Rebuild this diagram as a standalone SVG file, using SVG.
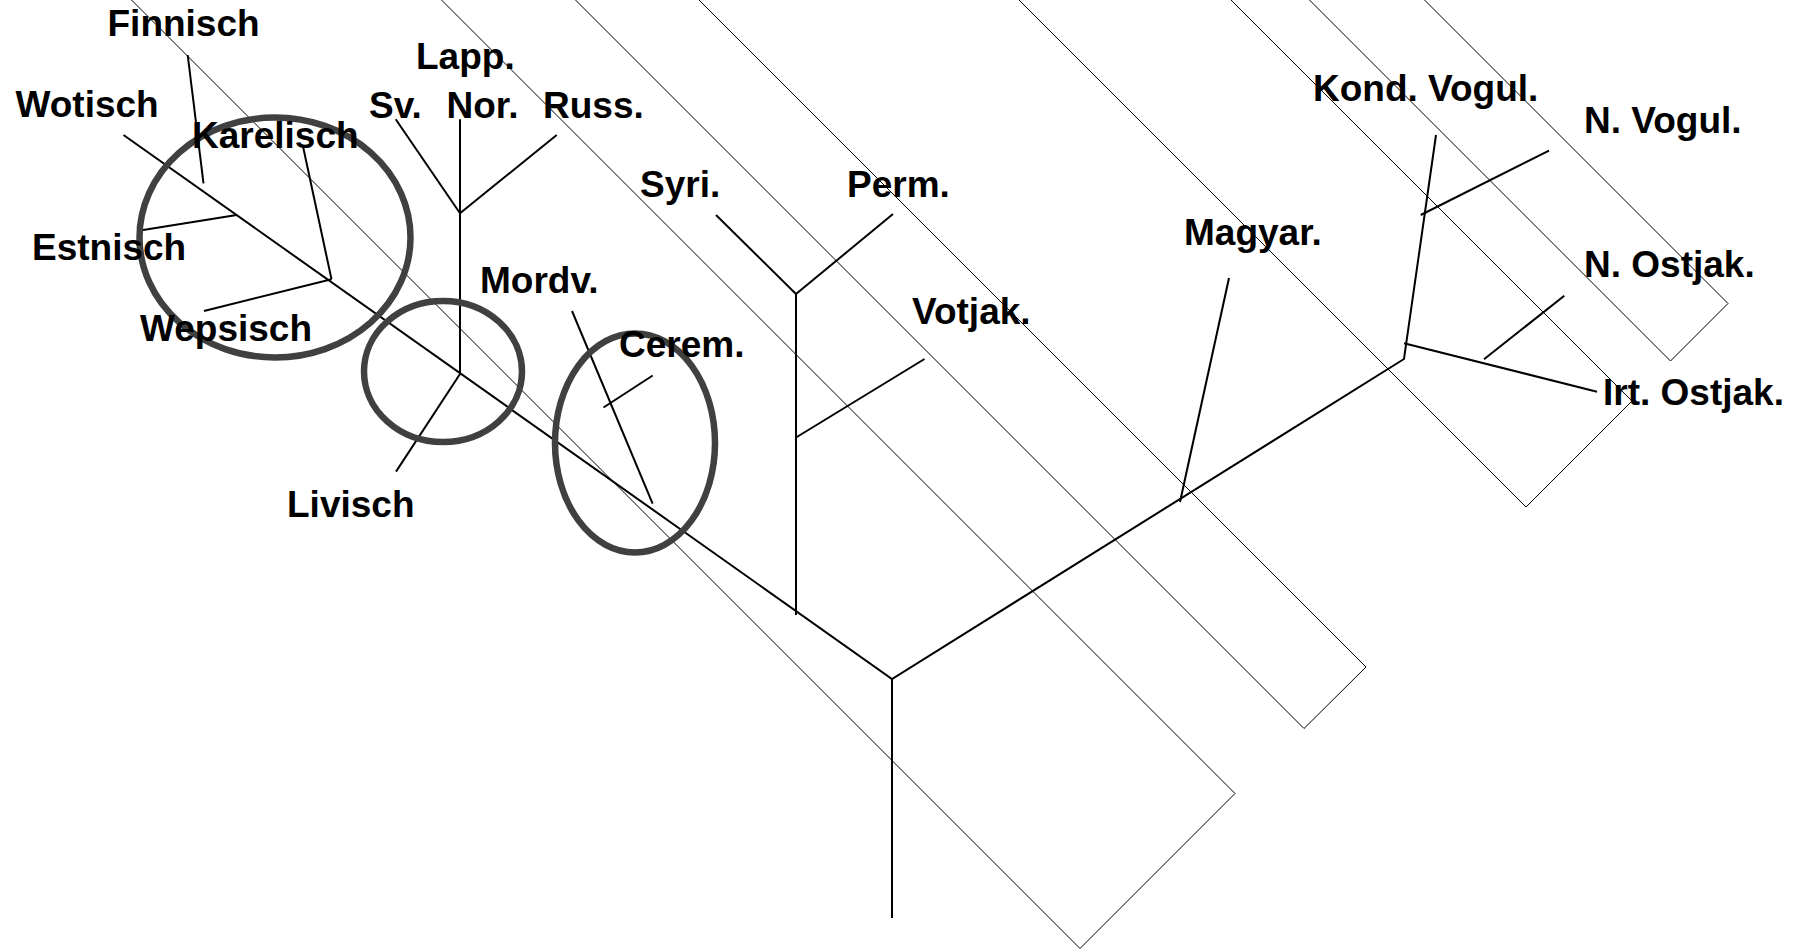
<svg xmlns="http://www.w3.org/2000/svg" width="1798" height="950" viewBox="0 0 1798 950">
<style>
.lbl{font-family:"Liberation Sans",Arial,sans-serif;font-weight:bold;font-size:37px;fill:#000}
.thin{fill:none;stroke:#000;stroke-width:1}
.br{fill:none;stroke:#000;stroke-width:2;stroke-linecap:butt}
.ring{fill:none;stroke:#404040;stroke-width:6.5}
</style>
<rect width="1798" height="950" fill="#fff"/>
<g id="bands">
<polyline class="thin" points="131.5,0 1080,948.5 1235,793.5 441.5,0"/>
<polyline class="thin" points="575.5,0 1304,728.5 1366,667 699,0"/>
<polyline class="thin" points="1019,0 1526,507 1632,401 1231,0"/>
<polyline class="thin" points="1309.5,0 1670.5,361 1728,303.5 1424.5,0"/>
</g>
<g id="connectors">
<polyline class="br" points="123.5,135 892,679 1404,359 1436,135"/>
<line class="br" x1="892" y1="679" x2="892" y2="918"/>
<line class="br" x1="187.7" y1="55" x2="203.5" y2="183.3"/>
<line class="br" x1="140" y1="230.5" x2="236.7" y2="215"/>
<line class="br" x1="303.3" y1="147.7" x2="331.5" y2="279.3"/>
<line class="br" x1="204" y1="311" x2="331.5" y2="279.3"/>
<line class="br" x1="395.7" y1="119.3" x2="460" y2="213.3"/>
<line class="br" x1="556.7" y1="135" x2="460" y2="213.3"/>
<line class="br" x1="460" y1="119.3" x2="460" y2="373"/>
<line class="br" x1="460" y1="374" x2="396" y2="471.6"/>
<line class="br" x1="572" y1="311" x2="652.6" y2="503.6"/>
<line class="br" x1="652.7" y1="375.5" x2="603.5" y2="407.5"/>
<line class="br" x1="796" y1="294" x2="796" y2="615"/>
<line class="br" x1="716" y1="215" x2="796" y2="294"/>
<line class="br" x1="893" y1="214" x2="796" y2="294"/>
<line class="br" x1="924.5" y1="359" x2="796" y2="437.5"/>
<line class="br" x1="1229" y1="278" x2="1180" y2="502"/>
<line class="br" x1="1404" y1="343.3" x2="1597" y2="391.7"/>
<line class="br" x1="1549" y1="150.7" x2="1420.7" y2="215"/>
<line class="br" x1="1564.3" y1="295.7" x2="1484" y2="359.3"/>
</g>
<g id="ring-finnic"><ellipse class="ring" cx="275" cy="237.5" rx="135.5" ry="120"/></g>
<g id="ring-livisch"><ellipse class="ring" cx="443" cy="371.5" rx="79" ry="70.5"/></g>
<g id="ring-cerem"><ellipse class="ring" cx="635" cy="443" rx="80" ry="109.5"/></g>
<g id="n-finnisch"><text class="lbl" x="107.5" y="36">Finnisch</text></g>
<g id="n-lapp"><text class="lbl" x="416" y="69">Lapp.</text></g>
<g id="n-wotisch"><text class="lbl" x="15.5" y="116.5">Wotisch</text></g>
<g id="n-sv"><text class="lbl" x="369" y="117.5">Sv.</text></g>
<g id="n-nor"><text class="lbl" x="446.5" y="117.5">Nor.</text></g>
<g id="n-russ"><text class="lbl" x="543" y="117.5">Russ.</text></g>
<g id="n-karelisch"><text class="lbl" x="192" y="148">Karelisch</text></g>
<g id="n-estnisch"><text class="lbl" x="32" y="260">Estnisch</text></g>
<g id="n-mordv"><text class="lbl" x="480" y="292.5">Mordv.</text></g>
<g id="n-wepsisch"><text class="lbl" x="140" y="340.5">Wepsisch</text></g>
<g id="n-cerem"><text class="lbl" x="619" y="356.5">Cerem.</text></g>
<g id="n-livisch"><text class="lbl" x="287" y="517">Livisch</text></g>
<g id="n-syri"><text class="lbl" x="640" y="197">Syri.</text></g>
<g id="n-perm"><text class="lbl" x="847" y="197">Perm.</text></g>
<g id="n-votjak"><text class="lbl" x="912" y="324">Votjak.</text></g>
<g id="n-magyar"><text class="lbl" x="1184" y="245">Magyar.</text></g>
<g id="n-kond-vogul"><text class="lbl" x="1313" y="101">Kond. Vogul.</text></g>
<g id="n-n-vogul"><text class="lbl" x="1584" y="133">N. Vogul.</text></g>
<g id="n-n-ostjak"><text class="lbl" x="1584" y="277">N. Ostjak.</text></g>
<g id="n-irt-ostjak"><text class="lbl" x="1603" y="405">Irt. Ostjak.</text></g>
</svg>
